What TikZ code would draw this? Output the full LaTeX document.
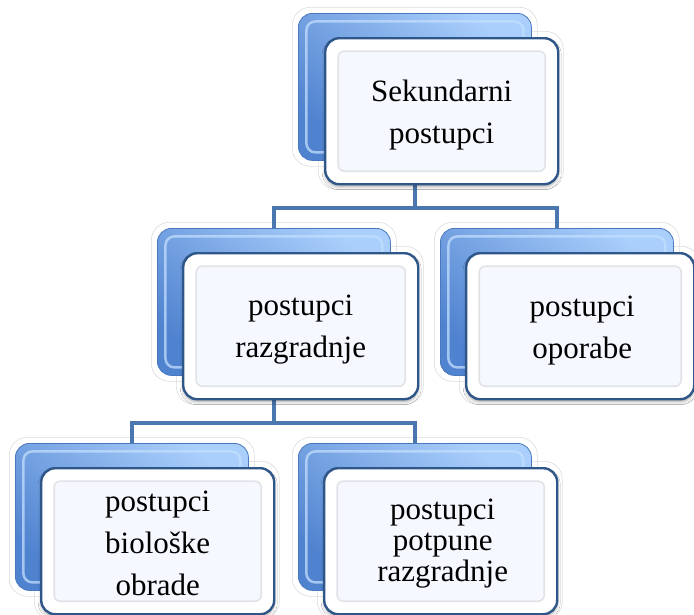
\documentclass[tikz,border=0pt]{standalone}
\usepackage{fontspec}
\setmainfont{Liberation Serif}
\usetikzlibrary{calc,shadows.blur}
\definecolor{backL}{HTML}{4F82CF}
\definecolor{backR}{HTML}{AACFFC}
\definecolor{backEdge}{HTML}{4A79BE}
\definecolor{backHi}{HTML}{C2DEFD}
\definecolor{frontEdge}{HTML}{2F5689}
\definecolor{faceFill}{HTML}{F5F8FE}
\definecolor{bevelGray}{HTML}{E1E3E7}
\definecolor{connCol}{HTML}{4A77B0}
\definecolor{glowCol}{HTML}{DCDCDC}
\tikzset{
  backbox/.style={rectangle, rounded corners=14pt, minimum width=233pt, minimum height=147pt,
    inner sep=0pt, anchor=north west, bottom color=backL, top color=backR, shading angle=-40,
    draw=backEdge, line width=0.8pt},
  backhi/.style={rectangle, rounded corners=9pt, minimum width=217pt, minimum height=131pt,
    inner sep=0pt, draw=backHi, draw opacity=0.75, line width=2.5pt},
  glowbox/.style={rectangle, rounded corners=18pt, inner sep=0pt, draw=glowCol, line width=0.6pt},
  frontbox/.style={rectangle, rounded corners=14pt, minimum width=233pt, minimum height=146pt,
    inner sep=0pt, anchor=north west, fill=white, draw=frontEdge, line width=2.4pt,
    blur shadow={shadow xshift=0pt, shadow yshift=-2.5pt, shadow blur radius=3pt, shadow opacity=35}},
  facebox/.style={rectangle, rounded corners=6pt, inner sep=0pt, fill=faceFill, draw=bevelGray, line width=1.6pt},
  lbl/.style={align=center, inner sep=0pt, font=\fontsize{31}{42}\selectfont},
  conn/.style={draw=connCol, line width=4.5pt}
}
\begin{document}
\begin{tikzpicture}[x=1pt,y=-1pt]
\useasboundingbox (0,0) rectangle (694,614);
\fill[white] (0,0) rectangle (694,614);

% glows first
\foreach \bx/\by/\fx/\fy/\fw in {298/13/324/37/233, 157/228/182/252/235, 440/228/465/252/228, 15/443/40/467/233, 298/443/323/467/233}{
  \node[glowbox, anchor=north west, minimum width=245pt, minimum height=159pt] at (\bx-6,\by-6) {};
  \node[glowbox, anchor=north west, minimum width=\fw pt+12pt, minimum height=158pt] at (\fx-6,\fy-6) {};
}

% invisible placeholders for the connector ends
\node[backbox, opacity=0] (topB0) at (298,13) {};
\node[backbox, opacity=0] (midLB0) at (157,228) {};
\node[backbox, opacity=0] (midRB0) at (440,228) {};
\node[backbox, opacity=0] (botLB0) at (15,443) {};
\node[backbox, opacity=0] (botRB0) at (298,443) {};
\draw[conn] (topB0.south) -- ($(topB0.south |- midLB0.north)+(0,-20)$);
\draw[conn] (midLB0.north) -- ++(0,-20) -| (midRB0.north);
\draw[conn] (midLB0.south) -- ($(midLB0.south |- botLB0.north)+(0,-20)$);
\draw[conn] (botLB0.north) -- ++(0,-20) -| (botRB0.north);

% ---- top ----
\node[backbox] (topB) at (298,13) {};
\node[backhi] at ($(topB.center)$) {};
\node[frontbox] (topF) at (324,37) {};
\node[facebox, minimum width=207pt, minimum height=120pt] (topFace) at (topF.center) {};
\node[lbl] (topT) at ($(topF.center)+(0,3.5)$) {Sekundarni\\postupci};

% ---- middle left ----
\node[backbox] (midLB) at (157,228) {};
\node[backhi] at (midLB.center) {};
\node[frontbox, minimum width=235pt] (midLF) at (182,252) {};
\node[facebox, minimum width=209pt, minimum height=120pt] (midLFace) at (midLF.center) {};
\node[lbl] (midLT) at ($(midLF.center)+(0,3)$) {postupci\\razgradnje};

% ---- middle right ----
\node[backbox] (midRB) at (440,228) {};
\node[backhi] at (midRB.center) {};
\node[frontbox, minimum width=228pt] (midRF) at (465,252) {};
\node[facebox, minimum width=202pt, minimum height=120pt] (midRFace) at (midRF.center) {};
\node[lbl] (midRT) at ($(midRF.center)+(2,4.5)$) {postupci\\oporabe};

% ---- bottom left ----
\node[backbox] (botLB) at (15,443) {};
\node[backhi] at (botLB.center) {};
\node[frontbox] (botLF) at (40,467) {};
\node[facebox, minimum width=207pt, minimum height=120pt] (botLFace) at (botLF.center) {};
\node[lbl] (botLT) at ($(botLF.center)+(0,2)$) {postupci\\biološke\\obrade};

% ---- bottom right ----
\node[backbox] (botRB) at (298,443) {};
\node[backhi] at (botRB.center) {};
\node[frontbox] (botRF) at (323,467) {};
\node[facebox, minimum width=207pt, minimum height=120pt] (botRFace) at (botRF.center) {};
\node[lbl, font=\fontsize{31}{31}\selectfont] (botRT) at ($(botRF.center)+(2,2.5)$) {postupci\\potpune\\razgradnje};
\end{tikzpicture}
\end{document}
